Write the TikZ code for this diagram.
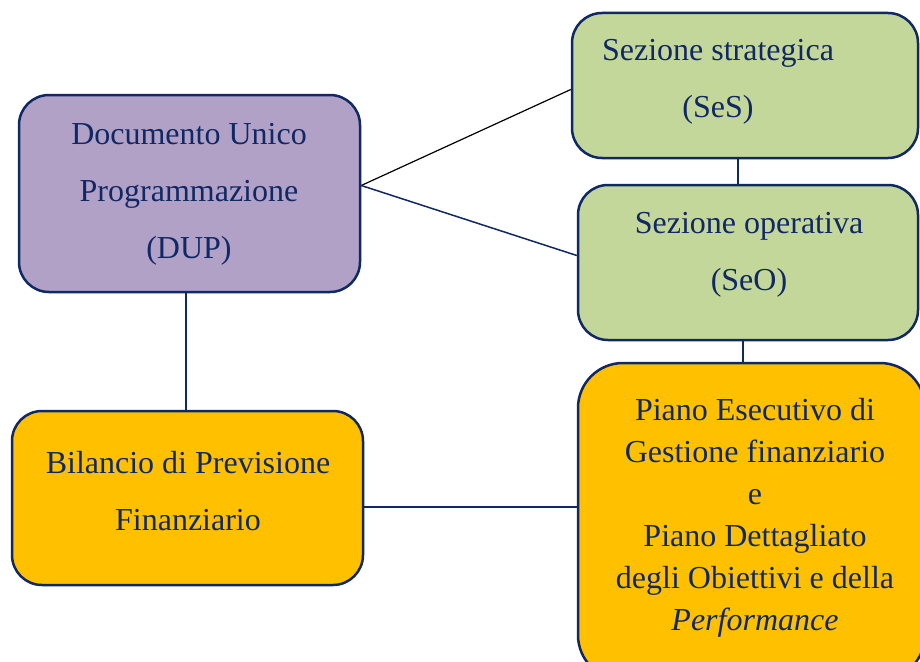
\documentclass[tikz,border=0pt]{standalone}
\usepackage{fontspec}
\setmainfont{Liberation Serif}
\usetikzlibrary{calc}
\definecolor{navy}{RGB}{16,40,100}
\definecolor{purplebox}{RGB}{177,161,199}
\definecolor{greenbox}{RGB}{196,215,155}
\definecolor{orangebox}{RGB}{255,192,0}
\tikzset{
  box/.style={draw=navy, line width=2.5pt, rounded corners=30pt, inner sep=0pt},
  txt/.style={text=navy, align=center, inner sep=0pt, font=\fontsize{32}{57}\selectfont},
  link/.style={draw=navy, line width=1.5pt}
}
\begin{document}
\begin{tikzpicture}[x=1pt,y=-1pt]
\useasboundingbox (0,0) rectangle (920,661);
\clip (0,0) rectangle (920,661);
\fill[white] (0,0) rectangle (920,661);
% boxes
\node[box, fill=purplebox, minimum width=341pt, minimum height=197pt] (dup) at (189.5,193.5) {};
\node[box, fill=greenbox, minimum width=346pt, minimum height=145pt] (ses) at (745,85.5) {};
\node[box, fill=greenbox, minimum width=340pt, minimum height=155pt] (seo) at (748,262.5) {};
\node[box, fill=orangebox, minimum width=351pt, minimum height=174pt] (bil) at (187.5,498) {};
\node[box, fill=orangebox, rounded corners=45pt, minimum width=347pt, minimum height=317pt] (peg) at (751.5,521.5) {};
% texts
\node[txt] (tdup) at (189,194) {Documento Unico\\Programmazione\\(DUP)};
\node[txt] (tses) at (718,82) {Sezione strategica\\(SeS)};
\node[txt] (tseo) at (749,255) {Sezione operativa\\(SeO)};
\node[txt] (tbil) at (188,491) {Bilancio di Previsione\\Finanziario};
\node[txt, font=\fontsize{32}{42}\selectfont] (tpeg) at (755,518) {Piano Esecutivo di\\Gestione finanziario\\e\\Piano Dettagliato\\degli Obiettivi e della\\\textit{Performance}};
% connectors
\draw[line width=1.2pt, black] ($(dup.east)+(0,-8)$) -- ($(ses.west)+(0,4)$);
\draw[link] ($(dup.east)+(0,-8)$) -- ($(seo.west)+(0,-7)$);
\draw[link] (ses.south -| 738,0) -- (seo.north -| 738,0);
\draw[link] (seo.south -| 743,0) -- (peg.north -| 743,0);
\draw[link] (dup.south -| 186,0) -- (bil.north -| 186,0);
\draw[link] (bil.east |- 0,507) -- (peg.west |- 0,507);
\end{tikzpicture}
\end{document}
